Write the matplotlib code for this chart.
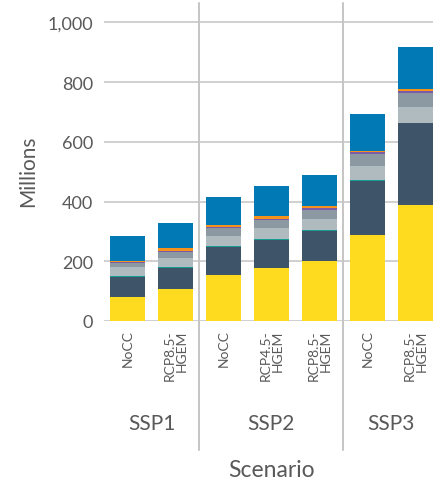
import numpy as np
import matplotlib
matplotlib.use("Agg")
import matplotlib.pyplot as plt

plt.rcParams['font.family'] = ['Lato', 'DejaVu Sans']

# bar labels and groups
scenarios = ['NoCC', 'RCP8.5-\nHGEM', 'NoCC', 'RCP4.5-\nHGEM', 'RCP8.5-\nHGEM', 'NoCC', 'RCP8.5-\nHGEM']
groups = ['SSP1', 'SSP2', 'SSP3']
group_sizes = [2, 3, 2]

# stacked layers, bottom to top (millions)
layer_yellow = [80, 107, 154, 177, 201, 287, 387]
layer_dark = [66, 70, 93, 93, 99, 181, 275]
layer_teal = [4, 4, 4, 5, 5, 4, 1]
layer_light = [31, 30, 32, 35, 35, 46, 53]
layer_grey = [13, 20, 28, 27, 31, 40, 47]
layer_purple = [3, 3, 4, 4.5, 6.5, 7, 8]
layer_orange = [5, 9, 6, 9, 6, 3, 6]
layer_blue = [82, 84, 93, 100, 107, 124, 140]

layers = [layer_yellow, layer_dark, layer_teal, layer_light,
          layer_grey, layer_purple, layer_orange, layer_blue]
colors = ['#FFDB1F', '#3E5468', '#179C94', '#B0BBC0',
          '#8D99A2', '#7B5AA6', '#F5921E', '#0079B5']

text_col = '#595959'
grid_col = '#C4C4C4'

fig = plt.figure(figsize=(4.33, 4.85), dpi=100)
ax = fig.add_axes([104 / 433, 1 - 322 / 485, 329 / 433, 318 / 485])

x = np.arange(len(scenarios))
bottom = np.zeros(len(scenarios))
for vals, c in zip(layers, colors):
    ax.bar(x, vals, width=0.73, bottom=bottom, color=c, zorder=3, linewidth=0)
    bottom += np.array(vals)

ax.set_xlim(-0.49, 6.37)
ax.set_ylim(0, 1065)
ax.set_yticks(range(0, 1001, 200))
ax.set_yticklabels([f'{v:,}' for v in range(0, 1001, 200)])
ax.yaxis.grid(True, color=grid_col, linewidth=1.1, zorder=0)
ax.tick_params(axis='y', length=0, pad=8, labelsize=13, labelcolor=text_col)

ax.set_xticks(x)
ax.set_xticklabels(scenarios, rotation=90, va='top', ha='center',
                   multialignment='right', linespacing=1.0)
ax.tick_params(axis='x', length=0, pad=6, labelsize=10, labelcolor=text_col)

for s in ax.spines.values():
    s.set_visible(False)

ax.set_ylabel('Millions', fontsize=15, color=text_col, va='center')
ax.yaxis.set_label_coords((28.5 - 104) / 329, (322 - 171.5) / 318)

# group separators and labels
edges = np.cumsum([0] + group_sizes)
for e in edges[1:-1]:
    ax.plot([e - 0.5, e - 0.5], [1, (322 - 451) / 318], color='#B5B5B5', linewidth=1.1,
            transform=ax.get_xaxis_transform(), clip_on=False, zorder=1)
for g, a, b in zip(groups, edges[:-1], edges[1:]):
    ax.text((a + b - 1) / 2, (322 - 424.5) / 318, g, transform=ax.get_xaxis_transform(),
            ha='center', va='center', fontsize=15, color=text_col)

ax.text((271.5 - 104) / 329, (322 - 471) / 318, 'Scenario', transform=ax.transAxes,
        ha='center', va='center', fontsize=16.5, color=text_col)

fig.savefig('out.png', dpi=100)
